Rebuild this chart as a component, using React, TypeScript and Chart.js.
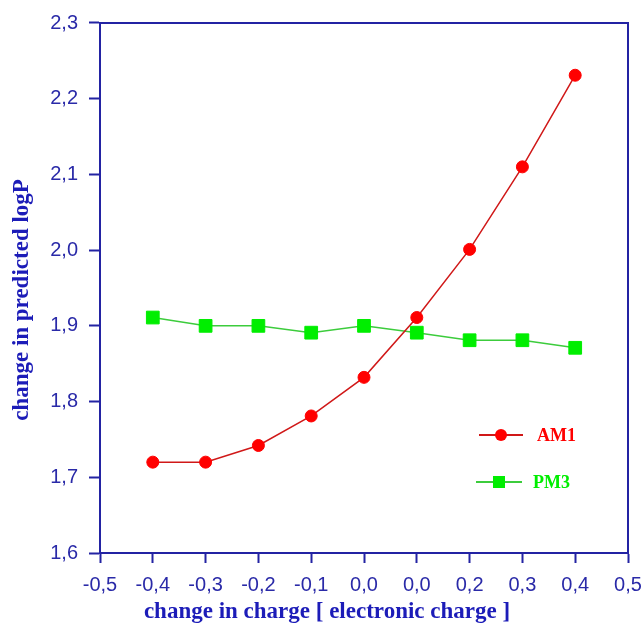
import React, { useEffect, useRef } from "react";
import { Chart, registerables } from "chart.js";

Chart.register(...registerables);

const xValues = [-0.4, -0.3, -0.2, -0.1, 0.0, 0.1, 0.2, 0.3, 0.4];
const am1Values = [1.72, 1.72, 1.742, 1.781, 1.832, 1.911, 2.001, 2.11, 2.231];
const pm3Values = [1.911, 1.9, 1.9, 1.891, 1.9, 1.891, 1.881, 1.881, 1.871];
const xTickLabels = ["-0,5", "-0,4", "-0,3", "-0,2", "-0,1", "0,0", "0,0", "0,2", "0,3", "0,4", "0,5"];
const yTickLabels = ["1,6", "1,7", "1,8", "1,9", "2,0", "2,1", "2,2", "2,3"];
const seriesNames = ["AM1", "PM3"];
const xTitle = "change in charge [ electronic charge ]";
const yTitle = "change in predicted logP";

const AXIS = "#2323a3";
const TICK_TEXT = "#2a2aa8";
const TITLE_COLOR = "#1c1cb8";
const RED_LINE = "#d01818";
const RED_POINT = "#ff0000";
const GREEN_LINE = "#3ccc3c";
const GREEN_POINT = "#00ee00";

const decorPlugin = {
  id: "decor",
  afterDraw(chart: any) {
    const { ctx, chartArea } = chart;
    ctx.save();
    ctx.strokeStyle = AXIS;
    ctx.lineWidth = 2;
    ctx.beginPath();
    ctx.moveTo(chartArea.left, chartArea.top);
    ctx.lineTo(chartArea.right, chartArea.top);
    ctx.lineTo(chartArea.right, chartArea.bottom);
    ctx.stroke();

    ctx.fillStyle = TITLE_COLOR;
    ctx.font = "bold 23px 'Liberation Serif', serif";
    ctx.textAlign = "center";
    ctx.textBaseline = "middle";
    ctx.fillText(xTitle, 327, 612);
    ctx.save();
    ctx.translate(22, 300);
    ctx.rotate(-Math.PI / 2);
    ctx.fillText(yTitle, 0, 0);
    ctx.restore();

    const items = [
      { y: 435, x0: 479, x1: 523, tx: 537, ds: chart.data.datasets[0] },
      { y: 482, x0: 476, x1: 522, tx: 533, ds: chart.data.datasets[1] },
    ];
    items.forEach((it) => {
      const ds = it.ds;
      ctx.strokeStyle = ds.borderColor;
      ctx.lineWidth = 2;
      ctx.beginPath();
      ctx.moveTo(it.x0, it.y);
      ctx.lineTo(it.x1, it.y);
      ctx.stroke();
      ctx.fillStyle = ds.pointBackgroundColor;
      const cx = (it.x0 + it.x1) / 2;
      if (ds.pointStyle === "rect") {
        ctx.fillRect(cx - 6, it.y - 6, 12, 12);
      } else {
        ctx.beginPath();
        ctx.arc(cx, it.y, 6, 0, Math.PI * 2);
        ctx.fill();
      }
      ctx.font = "bold 18px 'Liberation Serif', serif";
      ctx.textAlign = "left";
      ctx.textBaseline = "middle";
      ctx.fillText(ds.label, it.tx, it.y + 1);
    });
    ctx.restore();
  },
};

export default function App() {
  const canvasRef = useRef<HTMLCanvasElement>(null);

  useEffect(() => {
    if (!canvasRef.current) return;
    const chart = new Chart(canvasRef.current, {
      type: "line",
      data: {
        datasets: [
          {
            label: seriesNames[0],
            data: xValues.map((x, i) => ({ x, y: am1Values[i] })),
            borderColor: RED_LINE,
            borderWidth: 1.5,
            pointBackgroundColor: RED_POINT,
            pointBorderColor: RED_POINT,
            pointStyle: "circle",
            pointRadius: 6,
            pointBorderWidth: 1,
            tension: 0,
          },
          {
            label: seriesNames[1],
            data: xValues.map((x, i) => ({ x, y: pm3Values[i] })),
            borderColor: GREEN_LINE,
            borderWidth: 1.5,
            pointBackgroundColor: GREEN_POINT,
            pointBorderColor: GREEN_POINT,
            pointStyle: "rect",
            pointRadius: 9,
            pointBorderWidth: 1,
            tension: 0,
          },
        ],
      },
      options: {
        animation: false,
        responsive: false,
        maintainAspectRatio: false,
        layout: { padding: { left: 0, right: 15, top: 23, bottom: 0 } },
        plugins: {
          legend: { display: false },
          tooltip: { enabled: false },
        },
        scales: {
          x: {
            type: "linear",
            min: -0.5,
            max: 0.5,
            afterFit(scale: any) {
              scale.height = 77;
              scale.paddingLeft = 0;
              scale.paddingRight = 0;
            },
            afterBuildTicks(scale: any) {
              scale.ticks = xTickLabels.map((_, i) => ({ value: -0.5 + i * 0.1 }));
            },
            ticks: {
              autoSkip: false,
              maxRotation: 0,
              padding: 10,
              color: TICK_TEXT,
              font: { family: "'Liberation Sans', Arial, sans-serif", size: 20 },
              callback: (_v: any, i: number) => xTickLabels[i],
            },
            grid: {
              display: true,
              drawOnChartArea: false,
              drawTicks: true,
              tickLength: 10,
              tickWidth: 2,
              tickColor: AXIS,
            },
            border: { display: true, color: AXIS, width: 2 },
          },
          y: {
            type: "linear",
            min: 1.6,
            max: 2.3,
            afterFit(scale: any) {
              scale.width = 100;
              scale.paddingTop = 0;
              scale.paddingBottom = 0;
            },
            afterBuildTicks(scale: any) {
              scale.ticks = yTickLabels.map((_, i) => ({ value: 1.6 + i * 0.1 }));
            },
            ticks: {
              autoSkip: false,
              padding: 11,
              color: TICK_TEXT,
              font: { family: "'Liberation Sans', Arial, sans-serif", size: 20 },
              callback: (_v: any, i: number) => yTickLabels[i],
            },
            grid: {
              display: true,
              drawOnChartArea: false,
              drawTicks: true,
              tickLength: 11,
              tickWidth: 2,
              tickColor: AXIS,
            },
            border: { display: true, color: AXIS, width: 2 },
          },
        },
      },
      plugins: [decorPlugin],
    } as any);
    return () => chart.destroy();
  }, []);

  return (
    <div style={{ position: "absolute", left: 0, top: 0, width: 643, height: 630, background: "#fff" }}>
      <canvas ref={canvasRef} width={643} height={630} style={{ width: 643, height: 630 }} />
    </div>
  );
}
